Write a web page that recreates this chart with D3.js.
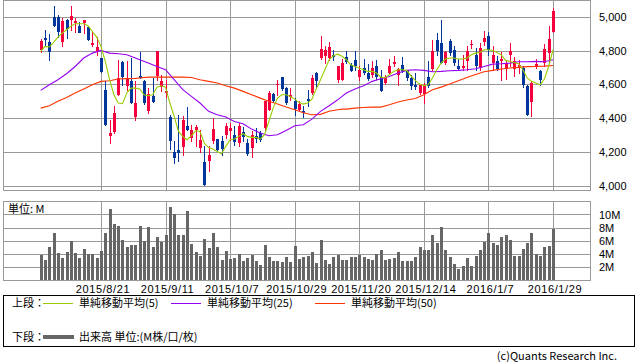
<!DOCTYPE html>
<html>
<head>
<meta charset="utf-8">
<script src="https://cdn.jsdelivr.net/npm/d3@7"></script>
<style>
body{margin:0;background:#fff;}
text{font-family:"Noto Sans CJK JP","Noto Sans",sans-serif;font-size:11px;fill:#000;}
.num{font-family:"Liberation Sans",Arial,sans-serif;}
</style>
</head>
<body>
<div id="chart"></div>
<script>
// daily candles, 2015/8/3 .. 2016/1/29 (120 trading days)
var openP = [4801,4874,4850,4998,4998,4854,4978,4978,4963,4947,4963,4939,4831,4795,4756,4569,4293,4316,4535,4730,
  4588,4622,4407,4647,4622,4441,4529,4647,4584,4545,4405,4200,4214,4230,4352,4283,4326,4224,4141,4145,
  4269,4277,4263,4303,4322,4303,4257,4316,4253,4224,4293,4313,4342,4450,4543,4594,4643,4579,4525,4500,
  4450,4441,4513,4549,4667,4756,4766,4756,4775,4624,4628,4762,4716,4746,4643,4697,4667,4657,4710,4641,
  4608,4671,4720,4657,4716,4683,4638,4598,4553,4545,4643,4691,4860,4844,4722,4854,4805,4706,4697,4736,
  4835,4775,4697,4848,4884,4726,4736,4736,4691,4769,4691,4697,4697,4592,4494,4706,4677,4726,4785,4909];
var highP = [4868,4923,4900,5065,5012,4992,4986,5061,4992,4967,4982,4939,4913,4880,4756,4618,4391,4474,4746,4736,
  4736,4756,4618,4789,4628,4579,4638,4795,4657,4628,4421,4263,4421,4411,4466,4362,4362,4332,4234,4234,
  4401,4277,4293,4372,4372,4352,4372,4346,4277,4322,4342,4326,4500,4559,4549,4628,4643,4583,4579,4519,
  4500,4474,4569,4657,4671,4884,4825,4848,4805,4710,4750,4795,4726,4795,4706,4750,4722,4736,4742,4683,
  4657,4750,4769,4697,4762,4687,4657,4667,4604,4608,4736,4860,4903,4982,4795,4868,4825,4750,4775,4825,
  4860,4815,4844,4913,4907,4829,4766,4789,4746,4844,4762,4746,4706,4598,4618,4750,4687,4840,4943,5051];
var lowP = [4789,4835,4746,4943,4880,4829,4872,4923,4907,4907,4903,4860,4825,4775,4671,4362,4253,4313,4535,4598,
  4569,4490,4387,4636,4486,4431,4494,4628,4559,4525,4220,4135,4149,4184,4328,4263,4234,4198,4003,4090,
  4253,4210,4184,4283,4273,4240,4234,4263,4180,4171,4257,4263,4332,4450,4494,4539,4569,4486,4506,4421,
  4446,4407,4474,4545,4584,4750,4726,4746,4746,4612,4628,4726,4677,4683,4628,4663,4624,4643,4632,4559,
  4604,4663,4706,4598,4671,4628,4573,4573,4545,4490,4584,4683,4775,4726,4722,4775,4716,4683,4683,4683,
  4815,4683,4683,4835,4775,4683,4683,4628,4632,4706,4651,4667,4584,4421,4415,4697,4598,4710,4726,4909];
var closeP = [4854,4860,4789,4943,4907,4976,4923,5002,4976,4907,4978,4860,4844,4821,4671,4362,4313,4431,4638,4641,
  4632,4490,4490,4636,4490,4543,4494,4795,4618,4559,4263,4163,4198,4391,4328,4332,4346,4269,4003,4180,
  4338,4214,4214,4356,4342,4263,4356,4289,4190,4303,4277,4273,4500,4549,4504,4602,4573,4490,4539,4454,
  4486,4431,4500,4638,4618,4809,4801,4821,4762,4706,4726,4732,4683,4712,4683,4667,4632,4697,4647,4559,
  4641,4710,4730,4691,4681,4638,4592,4584,4598,4592,4592,4795,4795,4726,4789,4785,4726,4687,4710,4795,
  4840,4710,4815,4874,4801,4775,4687,4750,4726,4795,4736,4716,4598,4421,4608,4722,4624,4809,4868,5032];
// volume, millions
var volume = [3.85,3.1,5.1,7.2,4.15,3.4,4.3,6.0,4.15,3.4,4.8,3.95,3.95,3.4,4.45,7.1,10.9,8.5,8.3,6.1,
  5.1,5.4,5.4,8.3,6.0,8.15,5.1,6.6,5.85,6.8,11.2,10.0,6.9,6.9,10.6,5.5,4.3,3.7,6.3,4.9,
  7.2,5.1,3.1,4.45,3.2,3.4,3.95,2.9,3.4,3.85,2.9,2.3,5.4,3.55,2.9,2.9,2.75,3.55,2.75,5.2,
  3.2,3.55,3.7,4.3,2.65,6.1,3.1,2.45,3.55,3.85,3.1,3.1,3.55,3.55,3.85,3.55,3.2,3.1,4.0,4.6,
  3.1,3.2,3.4,4.3,2.9,2.9,2.9,3.55,5.1,4.6,4.6,6.8,5.7,8.15,4.6,3.55,2.45,1.7,2.15,3.4,
  2.15,3.7,4.6,5.85,7.1,5.7,5.4,6.6,6.9,6.15,3.7,3.7,4.8,5.7,7.1,4.0,3.7,5.1,5.2,7.85];

// moving averages
var ma5 = [4795,4825,4821,4848,4880,4903,4923,4943,4959,4959,4959,4947,4913,4880,4825,4736,4628,4539,4490,4486,
  4549,4578,4578,4573,4539,4533,4539,4584,4592,4584,4490,4411,4322,4293,4273,4297,4326,4322,4253,4227,
  4218,4204,4190,4234,4273,4277,4293,4309,4293,4287,4287,4277,4303,4381,4460,4519,4539,4539,4529,4513,
  4494,4484,4490,4513,4573,4628,4687,4746,4769,4779,4766,4746,4716,4706,4697,4687,4677,4677,4667,4643,
  4638,4657,4677,4687,4687,4683,4651,4624,4602,4592,4598,4638,4687,4726,4750,4756,4756,4750,4750,4756,
  4775,4785,4789,4805,4805,4801,4789,4775,4742,4736,4730,4722,4687,4638,4618,4608,4598,4632,4706,4805];
var maDays = [0,2,4,6,8,10,12,14,16,18,20,22,23,25,27,29,31,33,35,37,39,41,43,45,47,49,51,53,55,57,59,61,63,65,67,69,70,
  71,73,75,77,79,81,83,85,87,89,91,93,95,97,99,101,103,105,107,109,111,113,115,117,119];
var ma25 = [4565,4598,4628,4663,4706,4756,4785,4801,4785,4781,4775,4756,4746,4726,4706,4687,4628,4569,4529,4490,4441,4421,4407,4381,4368,
  4336,4313,4297,4303,4328,4356,4362,4395,4441,4474,4509,4529,
  4549,4573,4592,4618,4634,4647,4667,4683,4687,4683,4675,4677,4681,4683,4687,4693,4706,4720,4722,4726,4734,4734,4736,4734,4746];
var ma50 = [4460,4474,4500,4523,4549,4573,4598,4618,4622,4632,4634,4636,4638,4643,4643,4643,4643,4643,4641,4628,4618,4608,4592,4578,4559,
  4539,4519,4500,4484,4466,4450,4433,4421,4423,4441,4450,4454,
  4454,4460,4464,4466,4466,4480,4496,4508,4517,4539,4569,4584,4602,4622,4641,4659,4675,4683,4691,4697,4701,4705,4706,4708,4712];

var priceTicks = [4000,4200,4400,4600,4800,5000];
var volTicks = [2,4,6,8,10];
var labelDays = [14,29,44,59,74,89,104,119];
var dayLabels = ["2015/8/21","2015/9/11","2015/10/7","2015/10/29","2015/11/20","2015/12/14","2016/1/7","2016/1/29"];

var svgWidth = 638, svgHeight = 362;
var left = 3, right = 590;
var upColor = "#f5003c", downColor = "#00359c";
var gridColor = "#999";

var svg = d3.select("#chart").append("svg")
    .attr("width", svgWidth)
    .attr("height", svgHeight)
    .style("display", "block");

var x = d3.scaleLinear().domain([0, 119]).range([40.7, 553]);
var y = d3.scaleLinear().domain([3976, 5099]).range([190, 0]);
var yv = d3.scaleLinear().domain([0, 12.06]).range([280, 201]);

function px(v) { return Math.round(v) + 0.5; }

// ---------- upper panel grid
var upper = svg.append("g").attr("shape-rendering", "crispEdges");
upper.selectAll(".hg").data(priceTicks).enter().append("line")
    .attr("x1", left).attr("x2", right)
    .attr("y1", d => px(y(d))).attr("y2", d => px(y(d)))
    .attr("stroke", gridColor);
upper.selectAll(".vg").data(labelDays).enter().append("line")
    .attr("x1", d => px(x(d))).attr("x2", d => px(x(d)))
    .attr("y1", 0).attr("y2", 190)
    .attr("stroke", gridColor);
upper.append("rect")
    .attr("x", left + 0.5).attr("y", 0.5)
    .attr("width", right - left).attr("height", 190)
    .attr("fill", "none").attr("stroke", gridColor);

var yAxis = d3.axisRight(y).tickValues(priceTicks).tickFormat(d3.format(",")).tickSize(0).tickPadding(0);
svg.append("g")
    .attr("transform", "translate(599,0)")
    .call(yAxis)
    .call(g => g.select(".domain").remove())
    .selectAll("text").attr("class", "num").style("font-size", "11px").attr("fill", "#000");

// ---------- candles
var idx = d3.range(closeP.length);
var candles = svg.append("g").attr("shape-rendering", "crispEdges");
candles.selectAll(".wick").data(idx).enter().append("line")
    .attr("x1", i => px(x(i))).attr("x2", i => px(x(i)))
    .attr("y1", i => Math.round(y(highP[i])))
    .attr("y2", i => Math.round(y(lowP[i])) + 1)
    .attr("stroke", i => closeP[i] >= openP[i] ? upColor : downColor);
candles.selectAll(".body").data(idx).enter().append("rect")
    .attr("x", i => Math.round(x(i)) - 1)
    .attr("width", 3)
    .attr("y", i => Math.round(y(Math.max(openP[i], closeP[i]))))
    .attr("height", i => Math.max(1, Math.round(Math.abs(y(openP[i]) - y(closeP[i])))))
    .attr("fill", i => closeP[i] >= openP[i] ? upColor : downColor);

// ---------- moving averages
var drawLine = d3.line().x(d => x(d[0])).y(d => y(d[1]));
var lines = svg.append("g").attr("fill", "none");
lines.append("path")
    .attr("d", drawLine(maDays.map((d, k) => [d, ma50[k]])))
    .attr("stroke", "#ff3300").attr("stroke-width", 1.1);
lines.append("path")
    .attr("d", drawLine(maDays.map((d, k) => [d, ma25[k]])))
    .attr("stroke", "#9400f0").attr("stroke-width", 1.1);
lines.append("path")
    .attr("d", drawLine(idx.map(i => [i, ma5[i]])))
    .attr("stroke", "#99cc00").attr("stroke-width", 1.1);

// ---------- volume panel
var lower = svg.append("g").attr("shape-rendering", "crispEdges");
lower.selectAll(".hg").data(volTicks).enter().append("line")
    .attr("x1", left).attr("x2", right)
    .attr("y1", d => px(yv(d))).attr("y2", d => px(yv(d)))
    .attr("stroke", gridColor);
lower.selectAll(".vg").data(labelDays).enter().append("line")
    .attr("x1", d => px(x(d))).attr("x2", d => px(x(d)))
    .attr("y1", 201).attr("y2", 280)
    .attr("stroke", gridColor);
lower.selectAll(".bar").data(idx).enter().append("rect")
    .attr("x", i => Math.round(x(i)) - 1)
    .attr("width", 3)
    .attr("y", i => Math.round(yv(volume[i])))
    .attr("height", i => 280 - Math.round(yv(volume[i])))
    .attr("fill", "#666");
lower.append("rect")
    .attr("x", left + 0.5).attr("y", 201.5)
    .attr("width", right - left).attr("height", 79)
    .attr("fill", "none").attr("stroke", gridColor);

svg.append("text").attr("x", 8).attr("y", 213).text("単位: M");

var vAxis = d3.axisRight(yv).tickValues(volTicks).tickFormat(d => d + "M").tickSize(0).tickPadding(0);
svg.append("g")
    .attr("transform", "translate(599,0)")
    .call(vAxis)
    .call(g => g.select(".domain").remove())
    .selectAll("text").attr("class", "num").style("font-size", "11px").attr("fill", "#000");

// date labels under the volume panel
svg.selectAll(".xl").data(labelDays).enter().append("text")
    .attr("class", "num")
    .attr("x", (d) => x(d) + 2)
    .attr("y", 293)
    .attr("text-anchor", "middle")
    .style("letter-spacing", "0.6px")
    .text((d, k) => dayLabels[k]);

// ---------- legend
var legend = svg.append("g");
legend.append("rect")
    .attr("x", 3.5).attr("y", 295.5).attr("width", 631).attr("height", 51)
    .attr("fill", "none").attr("stroke", "#000").attr("shape-rendering", "crispEdges");
legend.append("text").attr("x", 12).attr("y", 307).text("上段：");
var legendItems = [
  {x: 43, color: "#99cc00", label: "単純移動平均(5)"},
  {x: 171, color: "#9400f0", label: "単純移動平均(25)"},
  {x: 315, color: "#ff3300", label: "単純移動平均(50)"}
];
legendItems.forEach(function(it) {
  legend.append("line").attr("x1", it.x).attr("x2", it.x + 30).attr("y1", 303.5).attr("y2", 303.5)
      .attr("stroke", it.color).attr("shape-rendering", "crispEdges");
  legend.append("text").attr("x", it.x + 36).attr("y", 307).text(it.label);
});
legend.append("text").attr("x", 12).attr("y", 341).text("下段：");
legend.append("rect").attr("x", 43).attr("y", 335).attr("width", 31).attr("height", 4).attr("fill", "#666");
legend.append("text").attr("x", 79).attr("y", 341).text("出来高 単位:(M株/口/枚)");

svg.append("text").attr("x", 617).attr("y", 360).attr("text-anchor", "end").text("(c)Quants Research Inc.");
</script>
</body>
</html>
